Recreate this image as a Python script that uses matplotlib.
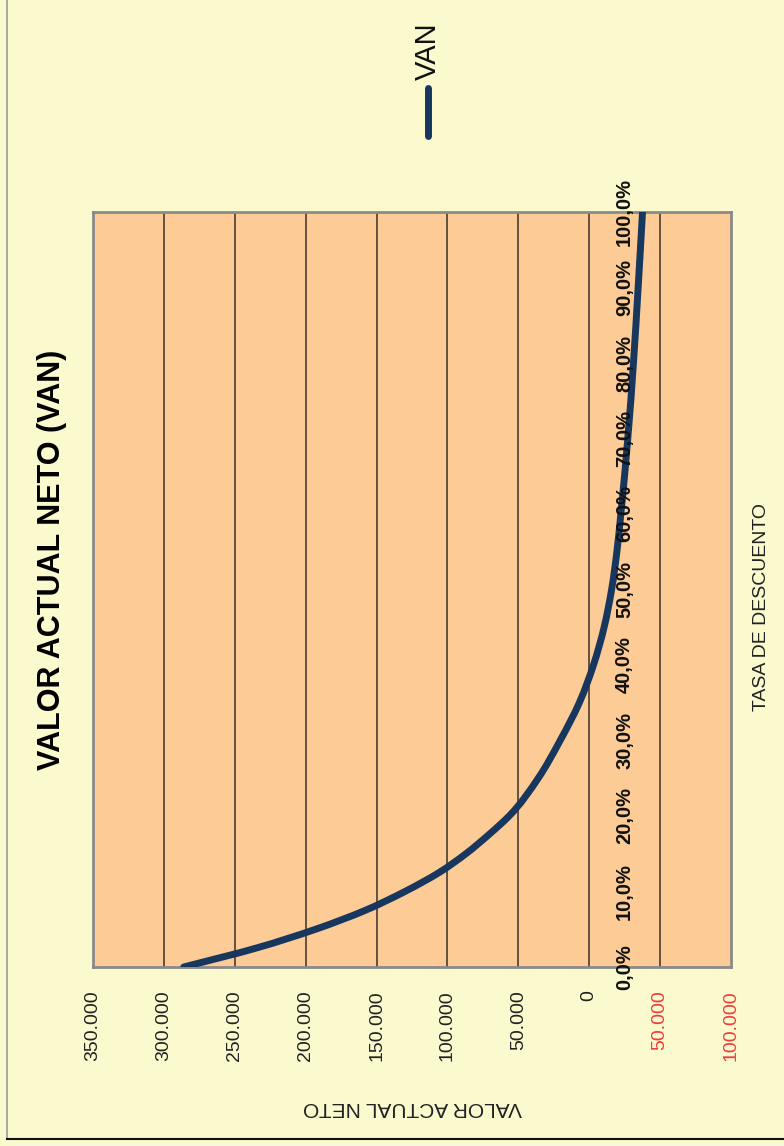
import matplotlib.pyplot as plt
from matplotlib.lines import Line2D
from matplotlib.path import Path
from matplotlib.patches import PathPatch

plt.rcParams["font.family"] = ["Liberation Sans", "DejaVu Sans"]

# Discount rate (%) and net present value
tasa = [0, 2.5, 5, 7.5, 10, 12.5, 15, 17.5, 20, 25, 30, 35, 40, 45, 50,
        55, 60, 70, 80, 90, 100]
van = [286000, 235000, 193000, 158000, 130000, 106000, 87000, 71000, 56500,
       36000, 20500, 7000, -3000, -10500, -15800, -19500, -22300, -27200,
       -31200, -34500, -37600]

van_ticks = [350000, 300000, 250000, 200000, 150000, 100000, 50000, 0,
             -50000, -100000]
tasa_ticks = [0, 10, 20, 30, 40, 50, 60, 70, 80, 90, 100]

W, H = 784, 1146
BG = "#FBF9CE"
PLOT_BG = "#FCCB96"
LINE = "#17375E"


def fmt_van(v):
    if v == 0:
        return "0"
    return f"{abs(v):,.0f}".replace(",", ".")


def fx(px):
    return px / W


def fy(py):
    return 1 - py / H


def smooth_path(t, v):
    """Smoothed line through the points (cubic Hermite as Bezier segments).
    The curve is v(t); it is drawn with v on the horizontal axis."""
    n = len(t)
    slopes = []
    for i in range(n):
        if i == 0:
            m = (v[1] - v[0]) / (t[1] - t[0])
        elif i == n - 1:
            m = (v[-1] - v[-2]) / (t[-1] - t[-2])
        else:
            h0, h1 = t[i] - t[i - 1], t[i + 1] - t[i]
            d0 = (v[i] - v[i - 1]) / h0
            d1 = (v[i + 1] - v[i]) / h1
            m = (d0 * h1 + d1 * h0) / (h0 + h1)
        slopes.append(m)
    verts = [(v[0], t[0])]
    codes = [Path.MOVETO]
    for i in range(n - 1):
        h = t[i + 1] - t[i]
        verts += [(v[i] + slopes[i] * h / 3, t[i] + h / 3),
                  (v[i + 1] - slopes[i + 1] * h / 3, t[i + 1] - h / 3),
                  (v[i + 1], t[i + 1])]
        codes += [Path.CURVE4] * 3
    return Path(verts, codes)


fig = plt.figure(figsize=(W / 100, H / 100), dpi=100)
fig.patch.set_facecolor(BG)

ax = fig.add_axes([fx(93), fy(967), (731 - 93) / W, (967 - 212) / H])
ax.set_facecolor(PLOT_BG)
ax.set_xlim(van_ticks[0], van_ticks[-1])
ax.set_ylim(0, 100)

# vertical grid lines (the VAN axis)
for v in van_ticks[1:-1]:
    ax.axvline(v, color="#3a3027", lw=1.1, zorder=1)

ax.add_patch(PathPatch(smooth_path(tasa, van), fill=False, edgecolor=LINE,
                       lw=5, capstyle="round", joinstyle="round", zorder=3))

for s in ax.spines.values():
    s.set_color("#8a8a8a")
    s.set_linewidth(2)

# VAN tick labels (negatives shown in red, no sign)
ax.set_xticks(van_ticks)
ax.set_xticklabels([fmt_van(v) for v in van_ticks], rotation=90,
                   fontsize=14, color="#222222")
for lab, v in zip(ax.get_xticklabels(), van_ticks):
    if v < 0:
        lab.set_color("#F03C3C")
ax.tick_params(axis="x", length=0, pad=17)
ax.set_yticks([])

# rate labels next to the zero line
for t in tasa_ticks:
    ax.annotate(f"{t:.1f}%".replace(".", ","), xy=(0, t), xytext=(25.5, 0),
                textcoords="offset points", rotation=90, ha="center",
                va="center", fontsize=14.5, fontweight="bold", color="#111111",
                annotation_clip=False, zorder=4)

fig.text(fx(52), fy(560), "VALOR ACTUAL NETO (VAN)", rotation=90,
         ha="center", va="center", fontsize=22, fontweight="bold")
fig.text(fx(412), fy(1108), "VALOR ACTUAL NETO", rotation=180,
         ha="center", va="center", fontsize=15, color="#222222")
fig.text(fx(761), fy(607), "TASA DE DESCUENTO", rotation=90,
         ha="center", va="center", fontsize=14, color="#222222")

# legend
fig.add_artist(Line2D([fx(428), fx(428)], [fy(88), fy(136)], color=LINE,
                      lw=5, solid_capstyle="round"))
fig.text(fx(428), fy(51), "VAN", rotation=90, ha="center", va="center",
         fontsize=21, color="#111111")

# outer chart frame
fig.add_artist(Line2D([fx(7), fx(7)], [fy(0), fy(1139)], color="#9a9a9a", lw=1.2))
fig.add_artist(Line2D([fx(7), fx(784)], [fy(1139), fy(1139)], color="#111111", lw=1.5))

fig.savefig("out.png", dpi=100, facecolor=BG)
